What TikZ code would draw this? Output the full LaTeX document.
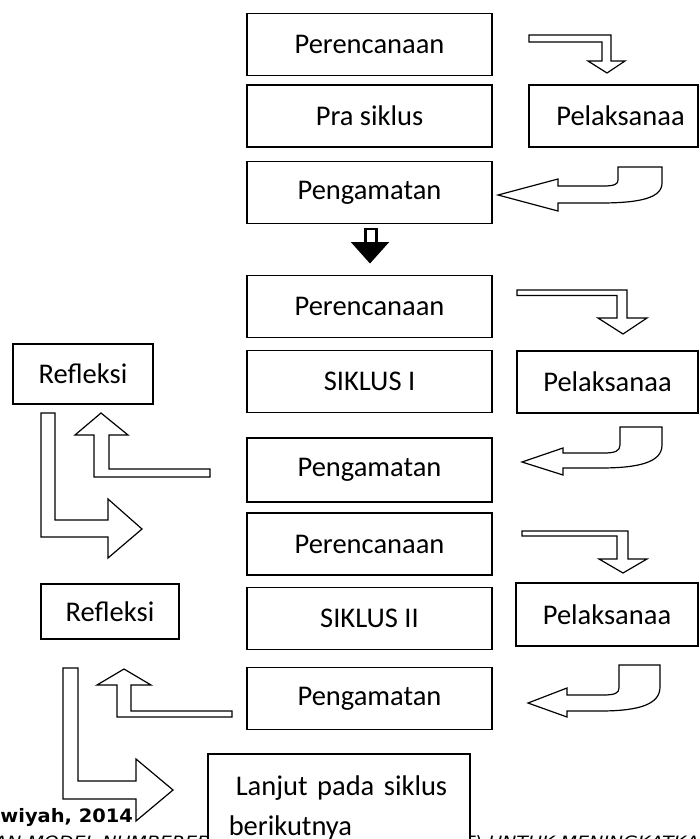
\documentclass[tikz,border=0pt]{standalone}
\usepackage{fontspec}
\usepackage{graphicx}
\setmainfont{Carlito}
\newfontfamily\footfont{DejaVu Sans}
\begin{document}
\begin{tikzpicture}[x=1pt,y=-1pt,
  box/.style={draw, line width=1.5pt, fill=white, font=\fontsize{28.5}{34}\selectfont,
              inner sep=0pt, minimum width=245pt, minimum height=62pt},
  blk/.style={draw, line width=1.2pt, fill=white, line join=miter},
  foot/.style={inner sep=0pt, font=\footfont\fontsize{16.5}{20}\selectfont}]
\useasboundingbox (0,0) rectangle (700,839);
\clip (0,0) rectangle (700,839);

% footer text (partly hidden behind the last box)
\node[foot, font=\footfont\bfseries\fontsize{18.5}{22}\selectfont, anchor=base east] (foot1) at (133,822) {\scalebox{1.05}[1]{wiyah, 2014}};
\node[foot, font=\footfont\itshape\fontsize{17}{20}\selectfont, anchor=base west] (foot2) at (-6,848) {\scalebox{1.12}[1]{AN MODEL NUMBERED}};
\node[foot, font=\footfont\itshape\fontsize{17}{20}\selectfont, anchor=base west] (foot3) at (463,848) {\scalebox{1.12}[1]{T) UNTUK MENINGKATKAN}};

% central column
\node[box] (per1) at (369.5,44.5) {Perencanaan};
\node[box] (pra)  at (369.5,116) {Pra siklus};
\node[box] (pen1) at (369.5,192.5) {Pengamatan};
\node[box] (per2) at (369.5,306.5) {Perencanaan};
\node[box] (sik1) at (369.5,381.5) {SIKLUS I};
\node[box, minimum height=64pt] (pen2) at (369.5,470) {Pengamatan};
\node[box] (per3) at (369.5,544) {Perencanaan};
\node[box] (sik2) at (369.5,618.5) {SIKLUS II};
\node[box] (pen3) at (369.5,698.5) {Pengamatan};

% right column
\node[box, minimum width=169pt] (pel1) at (613.5,116) {\hspace*{14pt}Pelaksanaa};
\node[box, minimum width=181pt] (pel2) at (607.5,382) {Pelaksanaa};
\node[box, minimum width=182pt, minimum height=63pt] (pel3) at (607,614.5) {Pelaksanaa};

% left column
\node[box, minimum width=140pt, minimum height=60pt] (ref1) at (83,374) {Refleksi};
\node[box, minimum width=138pt, minimum height=55pt] (ref2) at (110,611.5) {Refleksi};

% last box
\node[box, anchor=north west, minimum width=262pt, align=left, text width=220pt,
      inner xsep=21pt, inner ysep=22pt, font=\fontsize{28.5}{40}\selectfont]
      (lan) at (207,753) {\hspace*{7pt}Lanjut pada siklus\\berikutnya};

% black down arrow between pen1 and per2
\draw[line width=2.5pt, fill=white] (365.5,229) rectangle (376.5,244);
\filldraw[line width=2pt, line join=miter] (353,243) -- (387,243) -- (370,262) -- cycle;

% bent arrows Perencanaan -> Pelaksanaa
\path[blk] (529,35) -- (611,35) -- (611,61) -- (625,61) -- (607,73) -- (588,61) -- (602,61) -- (602,42) -- (529,42) -- cycle;
\path[blk] (517,290) -- (627,290) -- (627,318) -- (647,318) -- (623,334) -- (598,318) -- (617,318) -- (617,295.5) -- (517,295.5) -- cycle;
\path[blk] (522,531) -- (628,531) -- (628,559) -- (647,559) -- (623,573) -- (599,559) -- (617,559) -- (617,536) -- (522,536) -- cycle;

% U-turn arrows Pelaksanaa -> Pengamatan
\path[blk] (618,167) -- (662,167) -- (662,183) .. controls (662,198) and (640,203) .. (600,203) -- (558,203) -- (558,211) -- (498,195) -- (558,179) -- (558,186) -- (603,186) .. controls (615,186) and (618,184) .. (618,180) -- cycle;
\path[blk] (620,427) -- (662,427) -- (662,445) .. controls (662,462) and (640,468) .. (600,468) -- (563,468) -- (563,475) -- (522,462) -- (563,448) -- (563,453) -- (604,453) .. controls (615,453) and (620,451) .. (620,445) -- cycle;
\path[blk] (619,665) -- (660,665) -- (660,687) .. controls (660,704) and (640,711) .. (600,711) -- (567,711) -- (567,717) -- (528,703) -- (567,688) -- (567,695) -- (603,695) .. controls (615,695) and (619,693) .. (619,688) -- cycle;

% left arrows: Pengamatan -> Refleksi (up) and Refleksi -> Perencanaan (right)
\path[blk] (210,469) -- (210,477) -- (94,477) -- (94,435) -- (75,435) -- (101,413) -- (128,435) -- (109,435) -- (109,469) -- cycle;
\path[blk] (41,413) -- (55,413) -- (55,520) -- (108,520) -- (108,499) -- (142,529) -- (108,558) -- (108,537) -- (41,537) -- cycle;
\path[blk] (232,711) -- (232,717) -- (117,717) -- (117,685) -- (97,685) -- (124,669) -- (151,685) -- (131,685) -- (131,711) -- cycle;
\path[blk] (63,668) -- (78,668) -- (78,781) -- (136,781) -- (136,759) -- (173,790) -- (136,821) -- (136,799) -- (63,799) -- cycle;
\end{tikzpicture}
\end{document}
